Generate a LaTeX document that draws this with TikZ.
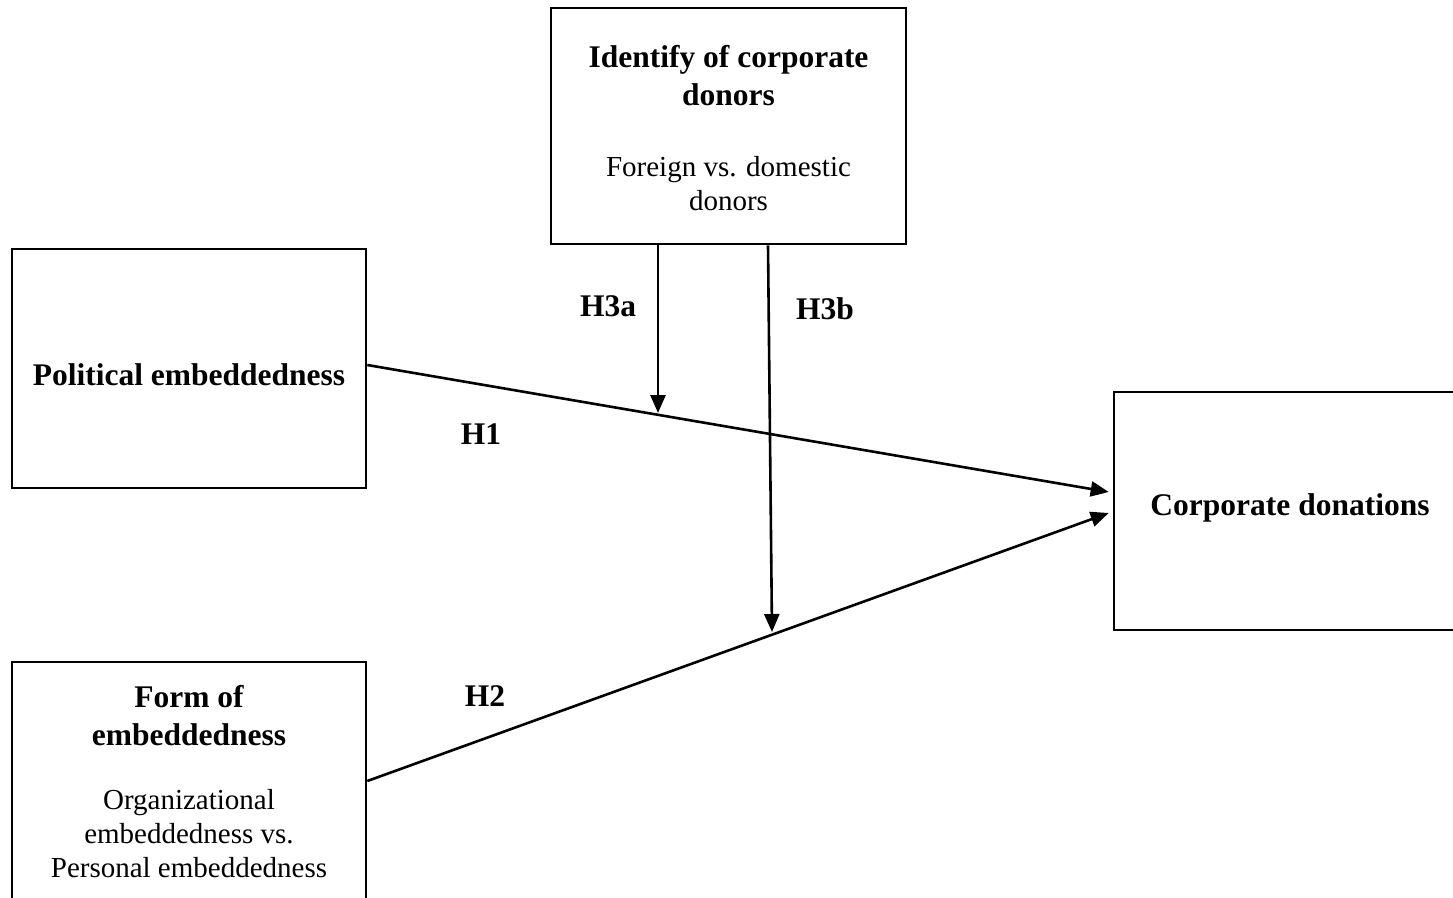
\documentclass[tikz,border=0pt]{standalone}
\usepackage{fontspec}
\setmainfont{Liberation Serif}
\usetikzlibrary{arrows.meta,calc}
\tikzset{
  box/.style={draw,line width=2.6pt,rectangle,inner sep=0pt},
  conn/.style={line width=2.6pt,-{Triangle[length=18pt,width=15pt]}},
  lab/.style={font=\fontsize{31.5}{38}\selectfont\bfseries},
  head/.style={align=center,inner sep=0pt,font=\fontsize{31.5}{38}\selectfont\bfseries},
  body/.style={align=center,inner sep=0pt,font=\fontsize{29}{34}\selectfont}
}
\begin{document}
\begin{tikzpicture}[x=1pt,y=-1pt]
\useasboundingbox (0,0) rectangle (1453,897);
\clip (0,0) rectangle (1453,897);
% boxes
\node[box,minimum width=355pt,minimum height=236pt] (id) at (728.5,126) {};
\node[head,anchor=base] (idh) at (728.5,105) {Identify of corporate\\donors};
\node[body,anchor=base] (idb) at (728.5,210) {Foreign vs. domestic\\donors};
\node[box,minimum width=354pt,minimum height=239pt] (pe) at (189,368.5) {};
\node[lab] (pet) at (189,375) {Political embeddedness};
\node[box,minimum width=354pt,minimum height=238pt] (fe) at (189,781) {};
\node[head,anchor=base] (feh) at (189,745) {Form of\\embeddedness};
\node[body,anchor=base] (feb) at (189,877) {Organizational\\embeddedness vs.\\Personal embeddedness};
\node[box,minimum width=352pt,minimum height=238pt] (cd) at (1290,511) {};
\node[lab] (cdt) at (1290,508) {Corporate donations};
% connector points
\coordinate (h1s) at ($(pe.east)+(0,-3.5)$);
\coordinate (h1e) at ($(cd.west)+(-4,-19)$);
\coordinate (h2s) at (fe.east);
\coordinate (h2e) at ($(cd.west)+(-4,2)$);
\coordinate (h3as) at (id.south -| 658,0);
\coordinate (h3ae) at (658,413);
\coordinate (h3bs) at (id.south -| 768,0);
\coordinate (h3be) at (772,632);
% connectors
\draw[conn] (h1s) -- (h1e);
\draw[conn] (h2s) -- (h2e);
\draw[conn] (h3as) -- (h3ae);
\draw[conn] (h3bs) -- (h3be);
% labels
\node[lab] (l3a) at (608,306) {H3a};
\node[lab] (l3b) at (825,309) {H3b};
\node[lab] (l1) at (481,434) {H1};
\node[lab] (l2) at (485,696) {H2};
\end{tikzpicture}
\end{document}
